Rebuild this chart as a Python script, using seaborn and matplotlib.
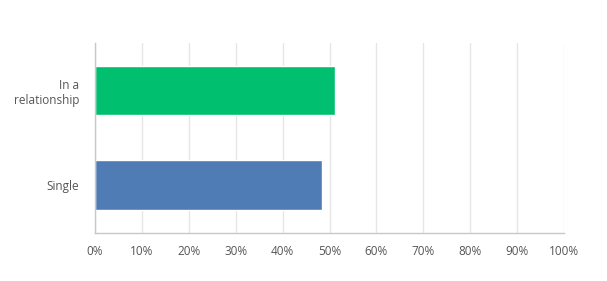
import matplotlib
matplotlib.use("Agg")
import matplotlib.pyplot as plt
import seaborn as sns
import pandas as pd
from matplotlib.ticker import FuncFormatter, MultipleLocator

categories = ["In a\nrelationship", "Single"]
values = [51.2, 48.5]
colors = ["#00BF6F", "#507CB6"]

sns.set_theme(style="white")
plt.rcParams['font.family'] = ['Open Sans', 'DejaVu Sans']

df = pd.DataFrame({"category": categories, "value": values})

fig = plt.figure(figsize=(6.07, 2.81), dpi=100)
ax = fig.add_axes([0.156, 0.172, 0.7737, 0.676])

sns.barplot(data=df, y="category", x="value", hue="category", palette=colors,
            orient="h", width=0.52, legend=False, ax=ax, saturation=1)

ax.set_xlim(0, 100)
ax.set_ylim(1.5, -0.5)
ax.xaxis.set_major_locator(MultipleLocator(10))
ax.xaxis.set_major_formatter(FuncFormatter(lambda v, p: f"{int(round(v))}%"))
ax.grid(axis="x", color="#e6e6e6", linewidth=1)
ax.set_axisbelow(True)
ax.set_xlabel("")
ax.set_ylabel("")
for s in ["top", "right"]:
    ax.spines[s].set_visible(False)
for s in ["left", "bottom"]:
    ax.spines[s].set_color("#c8c8c8")
    ax.spines[s].set_linewidth(1)
ax.tick_params(axis="x", length=0, pad=9, labelsize=8.5, labelcolor="#555555")
ax.tick_params(axis="y", length=0, pad=11, labelsize=8.5, labelcolor="#555555")
for lbl in ax.get_yticklabels():
    lbl.set_horizontalalignment("right")
    lbl.set_multialignment("right")

fig.savefig("out.png", dpi=100, facecolor="white")
